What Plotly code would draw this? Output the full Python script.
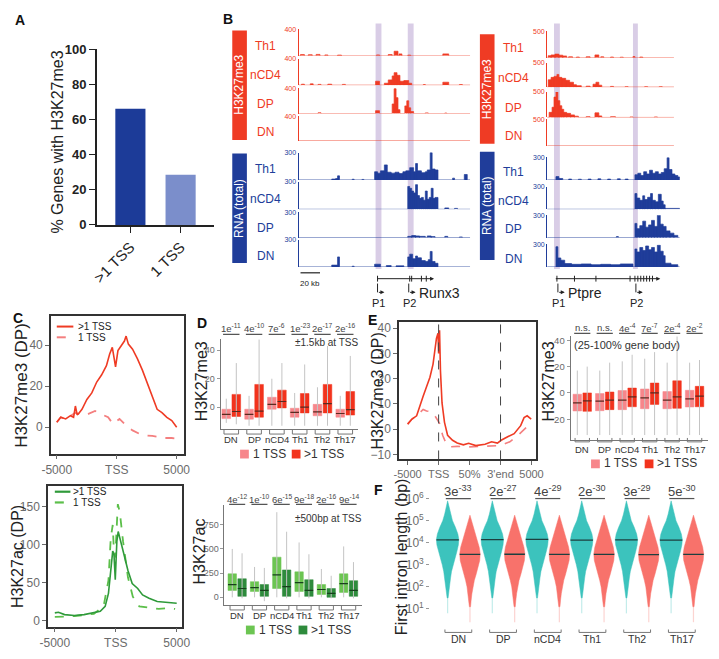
import plotly.graph_objects as go

W, H = 719, 659
FONT = "Arial, 'Liberation Sans', sans-serif"
RED = "#ef3b24"
BLUE = "#203d9a"
GREY = "#6b6b6b"

# ---------------- DATA ----------------
# Panel A
a_cats = [">1 TSS", "1 TSS"]
a_vals = [66, 28.5]
a_colors = ["#1c3b98", "#7b8ecb"]

# Panel C (top: H3K27me3, bottom: H3K27ac) profiles around TSS
c_top_x_multi = [-5000, -4670, -4260, -3860, -3600, -3450, -3300, -3170, -2900, -2490, -2080, -1670, -1270,
                 -860, -590, -370, -230, -100, 100, 370, 640, 780, 970, 1320, 1730, 2140, 2550, 2960, 3370,
                 3770, 4180, 4590, 5000]
c_top_y_multi = [2.4, 4.8, 4.0, 5.6, 4.8, 10.3, 6.0, 6.7, 8.7, 13.5, 16.7, 22.0, 25.4, 30.0, 35.7, 38.9, 34.0,
                 29.4, 37.3, 39.7, 42.0, 44.4, 40.5, 38.0, 33.3, 27.8, 21.4, 15.0, 8.7, 7.1, 4.8, 3.2, 0.0]
c_top_x_one = [-5000, -4670, -4260, -3860, -3450, -2900, -2360, -1810, -1270, -720, -310, 230, 780, 1320, 1870,
               2410, 2960, 3500, 4050, 4590, 5000]
c_top_y_one = [2.4, 4.8, 4.0, 5.6, 7.0, 5.9, 6.5, 7.9, 6.5, 4.8, 1.6, 4.0, 0.8, -1.6, -3.2, -4.0, -4.3, -4.8,
               -5.3, -5.3, -5.6]
c_bot_x_multi = [-5000, -4700, -4200, -3400, -2600, -1800, -1270, -870, -600, -410, -250, -150, -40, 90, 200,
                 470, 730, 1000, 1350, 1800, 2200, 2730, 3400, 4070, 4600, 5000]
c_bot_y_multi = [10.3, 11, 8, 6.8, 8, 10.3, 12.4, 18.8, 35.9, 65.8, 91.4, 88, 53.8, 104, 117, 100, 83, 65.8,
                 48.7, 42.3, 33.8, 29.5, 25.2, 24, 23, 23]
c_bot_x_one = [-5000, -3400, -1800, -1000, -600, -410, -250, -150, -40, 170, 330, 600, 1000, 1400, 1930, 2730,
               3530, 4330, 4870]
c_bot_y_one = [5, 6, 9, 18.8, 53, 108.5, 125.6, 91, 83, 153, 142.7, 104, 57, 31.6, 18.8, 16.7, 15.4, 16.7, 15.4]

# Box-plot categories
cats = ["DN", "DP", "nCD4", "Th1", "Th2", "Th17"]

# Panel D top (H3K27me3, +-1.5kb at TSS)
d_top_one = dict(q1=[-8, -8.4, -1.4, -7, -6, -7], med=[-5, -5, 2, -3.6, -3.3, -4.4],
                 q3=[-1.4, -1.4, 7, -0.7, 2, -1.4], lo=[-11, -13, -13, -13, -13, -13], hi=[6, 8, 20, 10, 14, 8])
d_top_multi = dict(q1=[-6.5, -7, -0.5, -4, -4, -5.5], med=[-3, -2.8, 4, 0, 2.5, -1.7],
                   q3=[9, 16, 12, 9.6, 16, 11], lo=[-12, -13, -13, -13, -13, -13], hi=[31, 47.6, 31, 30, 43, 36])
d_top_p = ["1e<sup>-11</sup>", "4e<sup>-10</sup>", "7e<sup>-6</sup>", "1e<sup>-23</sup>", "2e<sup>-17</sup>",
           "2e<sup>-16</sup>"]

# Panel D bottom (H3K27ac, +-500bp at TSS)
d_bot_one = dict(q1=[71, 61, 91, 61, 30, 51], med=[132, 101, 233, 152, 81, 142], q3=[243, 162, 415, 263, 132, 243],
                 lo=[0, 0, 0, 0, 0, 0], hi=[500, 314, 880, 567, 293, 526])
d_bot_multi = dict(q1=[10, 10, 10, 10, 0, 10], med=[91, 71, 111, 71, 40, 71], q3=[192, 132, 283, 182, 91, 172],
                   lo=[-10, -40, -10, -10, -10, -10], hi=[455, 304, 678, 445, 223, 364])
d_bot_p = ["4e<sup>-12</sup>", "1e<sup>-10</sup>", "6e<sup>-15</sup>", "9e<sup>-18</sup>", "2e<sup>-16</sup>",
           "9e<sup>-14</sup>"]

# Panel E left: metagene profile (x: -5000, TSS, 50%, 3'end, 5000 -> 0..4)
e_tick_text = ["-5000", "TSS", "50%", "3'end", "5000"]
e_x_multi = [0, 0.14, 0.29, 0.4, 0.5, 0.61, 0.72, 0.82, 0.93, 0.98, 1.0, 1.03, 1.06, 1.11, 1.19, 1.29, 1.45,
             1.6, 1.8, 1.97, 2.2, 2.5, 2.71, 2.9, 3.02, 3.23, 3.44, 3.65, 3.76, 3.86, 3.99]
e_y_multi = [2, 4, 5.3, 9.7, 13, 16.8, 20.6, 25.8, 36, 38, 30, 39.2, 23, 10.4, 2.7, -2.4, -4.4, -5.5, -6.2,
             -5.6, -6.5, -6, -5, -5.5, -4.4, -3, -1.8, 1.4, 4.6, 5.3, 4]
e_x_one = [0, 0.14, 0.29, 0.4, 0.5, 0.61, 0.72, 0.82, 0.93, 1.03, 1.13, 1.24, 1.35, 1.6, 2.0, 2.5, 3.0, 3.3,
           3.6, 3.99]
e_y_one = [2, 4, 5.3, 6.5, 7.8, 7.2, 7, 6.5, 4, 2.3, -2.4, -5.6, -7, -6.8, -7, -6.8, -6.5, -5, -2, 2.5]

# Panel E right (25-100% gene body)
e_one = dict(q1=[-13.7, -13.5, -12.7, -12, -12, -10.7], med=[-7.5, -6.3, -5.5, -3.7, -5.5, -4.5],
             q3=[-1, -0.5, 1.8, 3, 1, 2], lo=[-32] * 6, hi=[17, 17, 24, 26, 23, 23])
e_multi = dict(q1=[-14, -12.7, -10.5, -8.7, -11.7, -10.5], med=[-6, -5.5, -3, 0, -3, -2.5],
               q3=[0, 0.7, 3.7, 7.5, 9.2, 5], lo=[-32] * 6, hi=[20, 23, 29, 31, 43, 25])
e_p = ["n.s.", "n.s.", "4e<sup>-4</sup>", "7e<sup>-7</sup>", "2e<sup>-4</sup>", "2e<sup>-2</sup>"]

# Panel F: first intron length violins (log10 bp vs half-width in px)
f_teal_log = [5.9, 5.6, 5.3, 5.0, 4.7, 4.4, 4.15, 3.9, 3.6, 3.3, 3.0, 2.7, 2.4, 2.1, 1.8, 1.5]
f_teal_hw = [0, 1.5, 3, 5, 8, 10.5, 11.5, 11, 9.5, 7.5, 5.5, 4, 3, 2, 1.2, 0.5]
f_red_log = [5.25, 5.0, 4.7, 4.4, 4.1, 3.8, 3.5, 3.2, 2.9, 2.6, 2.3, 2.0, 1.7, 1.4, 1.1]
f_red_hw = [0, 1.5, 3.5, 5.5, 7.5, 9.5, 10.5, 10, 8.5, 6.5, 4.5, 3, 2, 1.2, 0.6]
f_teal_med = [4.13, 4.14, 4.15, 4.12, 4.13, 4.12]
f_red_med = [3.47, 3.48, 3.47, 3.47, 3.46, 3.47]
f_p = ["3e<sup>-33</sup>", "2e<sup>-27</sup>", "4e<sup>-29</sup>", "2e<sup>-30</sup>", "3e<sup>-29</sup>",
       "5e<sup>-30</sup>"]

# Panel B genome tracks: (start_kb, end_kb, signal)
track_names = ["Th1", "nCD4", "DP", "DN"]
runx3_h3 = {
    "Th1": [(2, 6, 20), (10, 14, 18), (18, 22, 22), (27, 30, 15), (40, 44, 12), (55, 58, 10), (70, 72, 10),
            (80, 83, 15), (92, 96, 20), (98, 102, 70), (103, 106, 30), (112, 115, 12), (125, 128, 10),
            (148, 154, 30), (160, 163, 10), (168, 172, 8)],
    "nCD4": [(3, 6, 15), (12, 15, 20), (20, 23, 12), (30, 34, 15), (45, 48, 12), (58, 61, 10), (68, 71, 10),
             (79, 83, 60), (88, 92, 30), (92, 96, 80), (96, 98, 140), (98, 101, 190), (101, 104, 150),
             (104, 108, 60), (108, 113, 70), (113, 116, 30), (128, 130, 10), (148, 154, 45), (165, 168, 10)],
    "DP": [(5, 8, 10), (20, 23, 12), (40, 43, 8), (55, 58, 8), (79, 83, 45), (88, 92, 10), (96, 98, 150),
           (98, 100, 390), (100, 102, 250), (102, 104, 60), (109, 111, 120), (111, 113, 200), (113, 115, 90),
           (115, 118, 30), (130, 133, 10), (150, 152, 8)],
    "DN": [(10, 12, 6), (30, 33, 6), (45, 50, 10), (60, 63, 8), (80, 84, 8), (95, 100, 10), (105, 112, 12),
           (120, 124, 8), (140, 143, 6), (160, 163, 8)],
}
runx3_rna = {
    "Th1": [(34, 38, 10), (38, 40, 15), (40, 42, 45), (55, 57, 8), (65, 67, 6), (78, 81, 90), (81, 84, 75),
            (84, 88, 100), (88, 91, 165), (91, 95, 85), (95, 99, 75), (99, 103, 85), (103, 107, 70),
            (107, 110, 90), (110, 114, 100), (114, 118, 135), (118, 120, 90), (120, 122, 180), (122, 126, 100),
            (126, 130, 80), (130, 132, 90), (132, 135, 110), (135, 137, 300), (137, 140, 120), (140, 143, 110),
            (158, 160, 20), (170, 173, 60)],
    "nCD4": [(112, 114, 250), (114, 116, 230), (116, 118, 200), (118, 120, 180), (120, 122, 270),
             (122, 124, 150), (124, 126, 120), (126, 128, 130), (128, 130, 100), (130, 132, 200), (132, 134, 110),
             (134, 136, 130), (136, 138, 230), (138, 140, 120), (140, 143, 130), (150, 154, 15), (160, 163, 10)],
    "DP": [(40, 43, 6), (60, 62, 5), (112, 116, 15), (116, 120, 25), (120, 124, 20), (124, 130, 15),
           (132, 136, 20), (136, 140, 12), (150, 153, 15), (165, 168, 8)],
    "DN": [(34, 38, 20), (38, 40, 20), (40, 42, 110), (55, 57, 8), (78, 84, 30), (90, 95, 15), (100, 108, 12),
           (112, 114, 110), (114, 117, 140), (117, 120, 90), (120, 122, 120), (122, 126, 100), (126, 130, 70),
           (130, 133, 60), (133, 135, 80), (135, 137, 170), (137, 140, 60), (140, 143, 40)],
}
ptpre_h3 = {
    "Th1": [(1, 4, 40), (4, 8, 55), (8, 12, 70), (12, 16, 50), (16, 20, 35), (22, 26, 20), (30, 33, 15),
            (40, 44, 20), (49, 53, 55), (55, 58, 20), (65, 68, 15), (75, 78, 12), (88, 90, 25), (95, 98, 15)],
    "nCD4": [(1, 4, 150), (4, 7, 200), (7, 10, 220), (10, 12, 260), (12, 15, 200), (15, 19, 180), (19, 23, 140),
             (23, 27, 100), (27, 30, 50), (30, 35, 30), (40, 44, 20), (47, 50, 60), (50, 53, 100), (53, 56, 40),
             (65, 68, 15), (80, 83, 10), (100, 103, 10), (115, 118, 10)],
    "DP": [(2, 5, 100), (5, 7, 200), (7, 9, 400), (9, 11, 500), (11, 13, 330), (13, 15, 230), (15, 17, 160),
           (17, 20, 100), (20, 24, 80), (24, 28, 50), (28, 32, 25), (40, 44, 15), (49, 53, 90), (53, 56, 30),
           (65, 70, 15), (85, 88, 10), (110, 113, 10)],
    "DN": [(5, 8, 8), (20, 23, 8), (35, 38, 6), (60, 64, 8), (80, 84, 8), (100, 103, 8), (118, 122, 6)],
}
ptpre_rna = {
    "Th1": [(9, 12, 45), (12, 16, 20), (22, 25, 12), (32, 35, 10), (42, 45, 12), (52, 55, 15), (62, 65, 12),
            (72, 75, 15), (80, 83, 12), (90, 93, 70), (93, 96, 90), (96, 99, 60), (99, 102, 110),
            (102, 105, 80), (105, 108, 130), (108, 111, 90), (111, 114, 110), (114, 117, 80), (117, 120, 100),
            (120, 123, 150), (123, 125, 300), (125, 128, 140), (128, 131, 80), (131, 134, 60), (134, 136, 40)],
    "nCD4": [(90, 92, 210), (92, 95, 150), (95, 98, 120), (98, 100, 180), (100, 103, 130), (103, 106, 160),
             (106, 108, 210), (108, 111, 120), (111, 114, 100), (114, 117, 200), (117, 119, 110), (119, 121, 60),
             (121, 136, 12)],
    "DP": [(71, 73, 15), (90, 92, 190), (92, 95, 120), (95, 98, 160), (98, 101, 220), (101, 104, 140),
           (104, 107, 170), (107, 110, 230), (110, 113, 150), (113, 116, 300), (116, 119, 180), (119, 122, 150),
           (122, 126, 90), (126, 130, 60), (130, 134, 30)],
    "DN": [(9, 11, 270), (11, 14, 120), (14, 18, 90), (18, 25, 45), (25, 35, 35), (35, 45, 40), (45, 55, 30),
           (55, 65, 35), (65, 75, 30), (75, 88, 40), (90, 92, 240), (92, 95, 200), (95, 98, 260), (98, 101, 220),
           (101, 104, 280), (104, 107, 230), (107, 110, 260), (110, 113, 200), (113, 116, 290), (116, 119, 210),
           (119, 121, 150), (121, 127, 50), (127, 134, 30)],
}
runx3_exons = [81, 114, 116, 126, 131]
runx3_span = [81, 139]
runx3_promoters = [81, 113]
runx3_bands = [(79, 85), (112, 118)]
ptpre_exons = [10, 28, 50, 85, 90, 93, 96, 99, 102, 105, 108]
ptpre_span = [10, 116]
ptpre_promoters = [11, 91]
ptpre_bands = [(7, 13), (88, 93)]

# ---------------- HELPERS ----------------
fig = go.Figure()
axes_layout = {}
annotations = []
shapes = []
count = [0]


def P(x):
    return x / W


def Q(y):
    return 1 - y / H


def new_axes(x0, x1, y0, y1, xa, ya):
    count[0] += 1
    n = count[0]
    s = "" if n == 1 else str(n)
    base = dict(showgrid=False, zeroline=False)
    xd = dict(base, domain=[P(x0), P(x1)], anchor="y" + s)
    xd.update(xa)
    yd = dict(base, domain=[Q(y1), Q(y0)], anchor="x" + s)
    yd.update(ya)
    axes_layout["xaxis" + s] = xd
    axes_layout["yaxis" + s] = yd
    return "x" + s, "y" + s


def ann(x, y, text, size=12, color="#222", xanchor="center", yanchor="middle", angle=0, xref="paper"):
    annotations.append(dict(x=x if xref != "paper" else P(x), y=Q(y), xref=xref, yref="paper", text=text,
                            showarrow=False, textangle=angle, xanchor=xanchor, yanchor=yanchor,
                            font=dict(size=size, color=color, family=FONT)))


def line(x0, y0, x1, y1, color="#222", width=1, dash="solid", xref="paper"):
    shapes.append(dict(type="line", xref=xref, yref="paper",
                       x0=x0 if xref != "paper" else P(x0), x1=x1 if xref != "paper" else P(x1),
                       y0=Q(y0), y1=Q(y1), line=dict(color=color, width=width, dash=dash)))


def rect(x0, y0, x1, y1, color, layer="above", opacity=1):
    shapes.append(dict(type="rect", xref="paper", yref="paper", x0=P(x0), x1=P(x1), y0=Q(y1), y1=Q(y0),
                       fillcolor=color, line=dict(width=0), layer=layer, opacity=opacity))


def arrow(x0, x1, y, color="#222", width=1):
    annotations.append(dict(x=P(x1), y=Q(y), xref="paper", yref="paper", ax=x0 - x1, ay=0, text="",
                            showarrow=True, arrowhead=2, arrowsize=0.8, arrowwidth=width, arrowcolor=color))


tickfont = dict(family=FONT, color=GREY)

# ---------------- PANEL A ----------------
xa, ya = new_axes(90, 210, 43, 223,
                  dict(type="linear", range=[-0.67, 1.66], tickvals=[0, 1], ticktext=a_cats, tickangle=-45,
                       showline=True, linecolor="#222", linewidth=1.5, ticks="outside", ticklen=6,
                       tickcolor="#222", tickfont=dict(family=FONT, size=15, color="#222")),
                  dict(range=[0, 100], tickvals=[0, 20, 40, 60, 80, 100], showline=True, linecolor="#222",
                       linewidth=1.5, ticks="outside", ticklen=6, tickcolor="#222",
                       tickfont=dict(family=FONT, size=13, color="#222", weight="bold")))
fig.add_trace(go.Bar(x=[0, 1], y=a_vals, marker=dict(color=a_colors, line=dict(width=0)), width=0.6,
                     xaxis=xa, yaxis=ya))
ann(50, 138, "% Genes with H3K27me3", size=16, angle=-90)

# ---------------- PANEL C ----------------
box_axis = dict(showline=True, mirror=True, linecolor="#333", linewidth=1.5, ticks="outside", ticklen=4,
                tickcolor=GREY)
xa, ya = new_axes(43, 179, 316, 457,
                  dict(box_axis, range=[-5490, 5570], tickvals=[-5000, 0, 5000], ticktext=["-5000", "TSS", "5000"],
                       tickfont=dict(tickfont, size=12)),
                  dict(box_axis, range=[-12.9, 54.3], tickvals=[0, 20, 40], tickfont=dict(tickfont, size=12)))
fig.add_trace(go.Scatter(x=c_top_x_one, y=c_top_y_one, mode="lines", line=dict(color="#f47f7f", width=1.8, dash="dash"),
                         xaxis=xa, yaxis=ya))
fig.add_trace(go.Scatter(x=c_top_x_multi, y=c_top_y_multi, mode="lines", line=dict(color=RED, width=1.6),
                         xaxis=xa, yaxis=ya))
line(49, 327, 66, 327, RED, 2)
line(49, 338, 66, 338, "#f47f7f", 2, "dash")
ann(69, 327, ">1 TSS", 10, xanchor="left")
ann(69, 338, "1 TSS", 10, xanchor="left")
ann(13, 387, "H3K27me3 (DP)", size=17, angle=-90)

xa, ya = new_axes(40, 177, 490, 634,
                  dict(box_axis, range=[-5560, 5400], tickvals=[-5000, 0, 5000], ticktext=["-5000", "TSS", "5000"],
                       tickfont=dict(tickfont, size=12)),
                  dict(box_axis, range=[-7.7, 177], tickvals=[0, 50, 100, 150], tickfont=dict(tickfont, size=12)))
fig.add_trace(go.Scatter(x=c_bot_x_one, y=c_bot_y_one, mode="lines", line=dict(color="#5cbf4a", width=1.8, dash="dash"),
                         xaxis=xa, yaxis=ya))
fig.add_trace(go.Scatter(x=c_bot_x_multi, y=c_bot_y_multi, mode="lines", line=dict(color="#2f9a3a", width=1.6),
                         xaxis=xa, yaxis=ya))
line(47, 496, 63, 496, "#2f9a3a", 2.2)
line(47, 507, 63, 507, "#5cbf4a", 2.2, "dash")
ann(64, 496, ">1 TSS", 10, xanchor="left")
ann(64, 507, "1 TSS", 10, xanchor="left")
ann(8, 562, "H3K27ac (DP)", size=16, angle=-90)


# ---------------- BOX PANELS ----------------
def box_panel(x0, x1, y0, y1, xr, yr, yticks, one, multi, c1, c2, med_color, fs):
    xa, ya = new_axes(x0, x1, y0, y1,
                      dict(range=xr, showline=True, linecolor="#777", linewidth=1, showticklabels=False),
                      dict(range=yr, tickvals=yticks, showline=True, linecolor="#777", linewidth=1,
                           ticks="outside", ticklen=3, tickcolor="#999", tickfont=dict(tickfont, size=fs)))
    off, w = 0.22, 0.38
    wx, wy = [], []
    groups = [([i - off for i in range(len(cats))], one, c1), ([i + off for i in range(len(cats))], multi, c2)]
    for pos, d, c in groups:
        for p, lo, hi in zip(pos, d["lo"], d["hi"]):
            wx += [p, p, None]
            wy += [lo, hi, None]
    fig.add_trace(go.Scatter(x=wx, y=wy, mode="lines", line=dict(color="#c4c4c4", width=1), xaxis=xa, yaxis=ya))
    mx, my = [], []
    for pos, d, c in groups:
        fig.add_trace(go.Box(x=pos, q1=d["q1"], median=d["med"], q3=d["q3"], lowerfence=d["q1"],
                             upperfence=d["q3"], width=w, fillcolor=c, line=dict(color=c, width=0.5),
                             whiskerwidth=0, boxpoints=False, xaxis=xa, yaxis=ya))
        for p, m in zip(pos, d["med"]):
            mx += [p - w / 2, p + w / 2, None]
            my += [m, m, None]
    fig.add_trace(go.Scatter(x=mx, y=my, mode="lines", line=dict(color=med_color, width=1.2), xaxis=xa, yaxis=ya))
    return xa, ya


def cat_decor(xa, labels, pvals, lab_y, br_y0, br_y1, p_y, ul_y, half=0.32, lab_size=9.5, p_size=9.5, ul_half=0.36):
    for i, (c, p) in enumerate(zip(labels, pvals)):
        shapes.append(dict(type="path", xref=xa, yref="paper",
                           path=f"M {i - half},{Q(br_y0)} L {i - half},{Q(br_y1)} L {i + half},{Q(br_y1)} L {i + half},{Q(br_y0)}",
                           line=dict(color="#777", width=1)))
        ann(i, lab_y, c, lab_size, "#333", xref=xa)
        if p is not None:
            ann(i, p_y, p, p_size, "#444", xref=xa)
            line(i - ul_half, ul_y, i + ul_half, ul_y, "#555", 1.2, xref=xa)


# D top
xa, ya = box_panel(217, 358, 340, 432, [-0.47, 5.56], [-15.4, 47.7], [0, 20, 40], d_top_one, d_top_multi,
                   "#f7868b", "#f2331d", "#5a2a20", 9)
cat_decor(xa, cats, d_top_p, 443, 432, 437, 328, 335)
ann(326, 343, "±1.5kb at TSS", 10, "#333")
rect(237, 453, 246, 462, "#f7868b")
ann(248, 457, "1 TSS", 12, "#333", xanchor="left")
rect(290, 453, 299, 462, "#f2331d")
ann(301, 457, ">1 TSS", 12, "#333", xanchor="left")
ann(197, 383, "H3K27me3", size=16, angle=-90)

# D bottom
xa, ya = box_panel(221, 362, 510, 612, [-0.57, 5.6], [-80, 950], [0, 250, 500, 750], d_bot_one, d_bot_multi,
                   "#6cc552", "#2e8b3c", "#173f1c", 9)
cat_decor(xa, cats, d_bot_p, 623, 612, 617, 503, 509)
ann(328, 523, "±500bp at TSS", 10, "#333")
rect(243, 633, 252, 642, "#6cc552")
ann(254, 637, "1 TSS", 12, "#333", xanchor="left")
rect(297, 633, 306, 642, "#2e8b3c")
ann(308, 637, ">1 TSS", 12, "#333", xanchor="left")
ann(195, 557, "H3K27ac", size=16, angle=-90)

# E right
xa, ya = box_panel(576, 717, 337, 443, [-0.52, 5.6], [-35.7, 43], [-20, 0, 20, 40], e_one, e_multi,
                   "#f7868b", "#f2331d", "#5a2a20", 9.5)
cat_decor(xa, cats, e_p, 453, 441, 445, 328, 334)
ann(634, 346, "(25-100% gene body)", 11, "#333")
rect(597, 463, 606, 472, "#f7868b")
ann(608, 467, "1 TSS", 12, "#333", xanchor="left")
rect(652, 463, 661, 472, "#f2331d")
ann(663, 467, ">1 TSS", 12, "#333", xanchor="left")
ann(553, 383, "H3K27me3", size=16, angle=-90)

# ---------------- PANEL E left ----------------
xa, ya = new_axes(400, 541, 322, 463,
                  dict(box_axis, range=[-0.28, 4.16], tickvals=[0, 1, 2, 3, 4], ticktext=e_tick_text,
                       tickfont=dict(tickfont, size=11)),
                  dict(box_axis, range=[-12, 42.6], tickvals=[-10, 0, 10, 20, 30, 40],
                       tickfont=dict(tickfont, size=12)))
for xv in [1, 3]:
    shapes.append(dict(type="line", xref=xa, yref=ya + " domain", x0=xv, x1=xv, y0=0, y1=1,
                       line=dict(color="#444", width=1, dash="dash")))
fig.add_trace(go.Scatter(x=e_x_one, y=e_y_one, mode="lines", line=dict(color="#f47f7f", width=1.6, dash="dash"),
                         xaxis=xa, yaxis=ya))
fig.add_trace(go.Scatter(x=e_x_multi, y=e_y_multi, mode="lines", line=dict(color=RED, width=1.6),
                         xaxis=xa, yaxis=ya))
ann(378, 393, "H3K27me3 (DP)", size=16, angle=-90)

# ---------------- PANEL F ----------------
F_X0, F_X1, F_R0, F_R1 = 432, 719, -0.63, 5.63
xa, ya = new_axes(F_X0, F_X1, 490, 632,
                  dict(range=[F_R0, F_R1], showline=False, showticklabels=False),
                  dict(type="log", range=[0.29, 6.58], tickvals=[10, 100, 1000, 1e4, 1e5, 1e6],
                       ticktext=["10<sup>1</sup>", "10<sup>2</sup>", "10<sup>3</sup>", "10<sup>4</sup>",
                                 "10<sup>5</sup>", "10<sup>6</sup>"],
                       ticks="outside", ticklen=3, tickcolor="#999", tickfont=dict(tickfont, size=12)))
px_per_cat = (F_X1 - F_X0) / (F_R1 - F_R0)
mx, my = [], []
for i in range(len(cats)):
    for center, logs, hws, col, med in [(i - 0.24, f_teal_log, f_teal_hw, "#3cc3bd", f_teal_med[i]),
                                        (i + 0.26, f_red_log, f_red_hw, "#f8726b", f_red_med[i])]:
        xs = [center + h / px_per_cat for h in hws] + [center - h / px_per_cat for h in reversed(hws)]
        ys = [10 ** v for v in logs] + [10 ** v for v in reversed(logs)]
        fig.add_trace(go.Scatter(x=xs, y=ys, mode="lines", fill="toself", fillcolor=col,
                                 line=dict(color=col, width=0.5), xaxis=xa, yaxis=ya))
        fig.add_trace(go.Scatter(x=[center, center], y=[10 ** logs[-1], 10 ** (logs[-1] - 0.7)], mode="lines",
                                 line=dict(color=col, width=1.2), opacity=0.3, xaxis=xa, yaxis=ya))
        hw = hws[min(range(len(logs)), key=lambda k: abs(logs[k] - med))] / px_per_cat
        mx += [center - hw, center + hw, None]
        my += [10 ** med, 10 ** med, None]
fig.add_trace(go.Scatter(x=mx, y=my, mode="lines", line=dict(color="#1d3f3f", width=1.3), xaxis=xa, yaxis=ya))
cat_decor(xa, cats, f_p, 647, 637, 640, 495, 503, half=0.3, lab_size=10.5, p_size=13, ul_half=0.28)
ann(402, 562, "First intron length (bp)", size=16, angle=-90)

# ---------------- PANEL B ----------------
def track_xy(segs, xmax):
    xs, ys = [0], [0]
    for s, e, v in segs:
        xs += [s, s, e, e]
        ys += [0, v, v, 0]
    xs.append(xmax)
    ys.append(0)
    return xs, ys


def browser(x0, x1, xmax, h3, rna, h3_rows, rna_rows, h3_max, label_x, bands, exons, span, proms, gene, gene_x,
            bar_x, bar_h3, bar_rna, h3_end):
    kb2px = lambda kb: x0 + kb * (x1 - x0) / xmax
    for (s, e) in bands:
        rect(kb2px(s), 17, kb2px(e), 268, "#d9cde6", layer="below")
    for data, rows, mx_, col, endkb in [(h3, h3_rows, h3_max, RED, h3_end), (rna, rna_rows, 300, BLUE, xmax)]:
        for name, (top, base) in zip(track_names, rows):
            xa, ya = new_axes(x0, x1, top, base,
                              dict(range=[0, xmax], visible=False),
                              dict(range=[0, mx_], tickvals=[0, mx_], ticktext=["", str(mx_)], showline=True,
                                   linecolor=col, linewidth=1.2, ticks="inside", ticklen=3, tickcolor=col,
                                   tickwidth=1.2, tickfont=dict(family=FONT, size=7, color=col)))
            xs, ys = track_xy(data[name], endkb)
            fig.add_trace(go.Scatter(x=xs, y=ys, mode="lines", fill="tozeroy", fillcolor=col,
                                     line=dict(color=col, width=0.7), xaxis=xa, yaxis=ya))
            ann(label_x, (top + base) / 2 + 3, name, 12, col)
    # side bars
    rect(bar_x, bar_h3[0], bar_x + 15, bar_h3[1], RED)
    ann(bar_x + 7.5, (bar_h3[0] + bar_h3[1]) / 2, "H3K27me3", 12, "white", angle=-90)
    rect(bar_x, bar_rna[0], bar_x + 15, bar_rna[1], BLUE)
    ann(bar_x + 7.5, (bar_rna[0] + bar_rna[1]) / 2, "RNA (total)", 12, "white", angle=-90)
    # gene model
    arrow(kb2px(span[0]), kb2px(span[1]), 278)
    for ex in exons:
        line(kb2px(ex), 275, kb2px(ex), 281, "#222", 1)
    for k, pr in enumerate(proms):
        px = kb2px(pr)
        line(px, 283, px, 292, "#222", 1)
        arrow(px, px + 7, 292)
        ann(px + 1, 303, "P%d" % (k + 1), 11, "#222")
    ann(gene_x, 293, gene, 14, "#222")


browser(297, 473, 176, runx3_h3, runx3_rna,
        [(23, 50), (53, 80), (83, 109), (112, 137)], [(149, 177), (179, 207), (210, 236), (238, 266)],
        400, 263, runx3_bands, runx3_exons, runx3_span, runx3_promoters, "Runx3", 442,
        229, (24, 136), (150, 262), 176)
browser(552, 688, 136, ptpre_h3, ptpre_rna,
        [(25, 52), (57, 82), (87, 113), (115, 142)], [(154, 177), (184, 207), (213, 236), (243, 266)],
        500, 517, ptpre_bands, ptpre_exons, ptpre_span, ptpre_promoters, "Ptpre", 591,
        483, (28, 140), (148, 259), 130)
# scale bar
line(299, 272, 319, 272, "#222", 1.2)
ann(309, 283, "20 kb", 8, "#222")

# ---------------- PANEL LABELS ----------------
for lab, x, y in [("A", 11, 13), ("B", 225, 12), ("C", 9, 318), ("D", 198, 323), ("E", 373, 320), ("F", 379, 494)]:
    ann(x, y, "<b>%s</b>" % lab, 14, "#111")

fig.update_layout(width=W, height=H, margin=dict(l=0, r=0, t=0, b=0), showlegend=False,
                  paper_bgcolor="white", plot_bgcolor="rgba(0,0,0,0)", font=dict(family=FONT),
                  annotations=annotations, shapes=shapes, **axes_layout)
fig.write_html("out.html")
